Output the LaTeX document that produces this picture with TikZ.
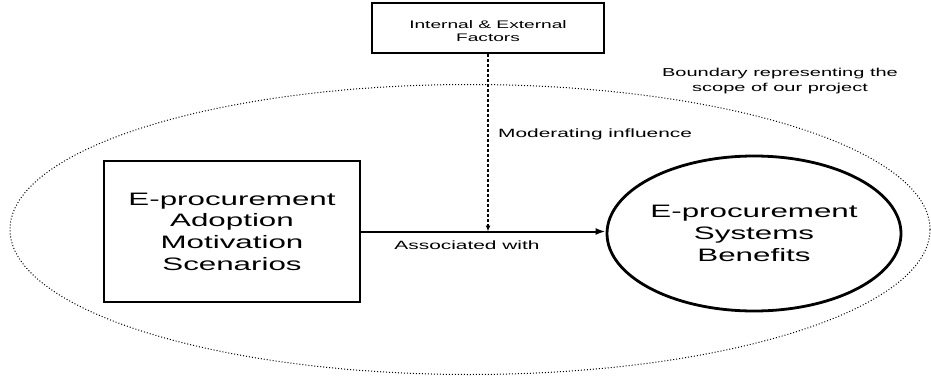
\documentclass[tikz,border=0pt]{standalone}
\usepackage{fontspec}
\setmainfont{Liberation Sans}[FakeStretch=1.74]
\usetikzlibrary{shapes.geometric,arrows.meta}
\tikzset{
  big/.style={font=\fontsize{18}{21.7}\selectfont, align=center},
  small/.style={font=\fontsize{12}{14}\selectfont},
  thickbox/.style={draw, line width=2.4pt, inner sep=0pt},
  conn/.style={line width=2pt, -{Latex[length=10pt,width=7pt]}},
  modconn/.style={line width=1.7pt, dash pattern=on 3pt off 2pt, -{Latex[length=6pt,width=5pt]}},
}
\begin{document}
\begin{tikzpicture}[x=1pt,y=1pt]
\useasboundingbox (0,0) rectangle (931,-380);
% boundary
\draw[line width=1pt, dotted] (470,-229.5) ellipse [x radius=460, y radius=145];
% top box
\node[thickbox, minimum width=232pt, minimum height=50pt] (T) at (488,-28) {};
\node[align=center, inner sep=0pt, font=\fontsize{11}{13}\selectfont] (Tt) at (488,-31.5) {Internal \& External\\Factors};
% left box
\node[thickbox, big, minimum width=256pt, minimum height=141pt] (L) at (232,-231.5)
  {E-procurement\\Adoption\\Motivation\\Scenarios};
% benefits ellipse
\node[draw, ellipse, line width=2.8pt, big, inner sep=0pt, minimum width=294pt, minimum height=155pt] (C) at (754,-233.5)
  {E-procurement\\Systems\\Benefits};
% connectors
\coordinate (J) at (C.west |- L.east);
\draw[conn] (L.east) -- (J);
\coordinate (M) at (T.south |- L.east);
\draw[modconn] (T.south) -- (M);
% labels
\node[small, anchor=west, inner sep=0pt] (mod) at (498,-134) {Moderating influence};
\node[small, inner sep=0pt] (assoc) at (467,-245) {Associated with};
\node[font=\fontsize{11.5}{15.5}\selectfont, align=center, inner sep=0pt] (bnd) at (780,-81)
  {Boundary representing the\\scope of our project};
\end{tikzpicture}
\end{document}
